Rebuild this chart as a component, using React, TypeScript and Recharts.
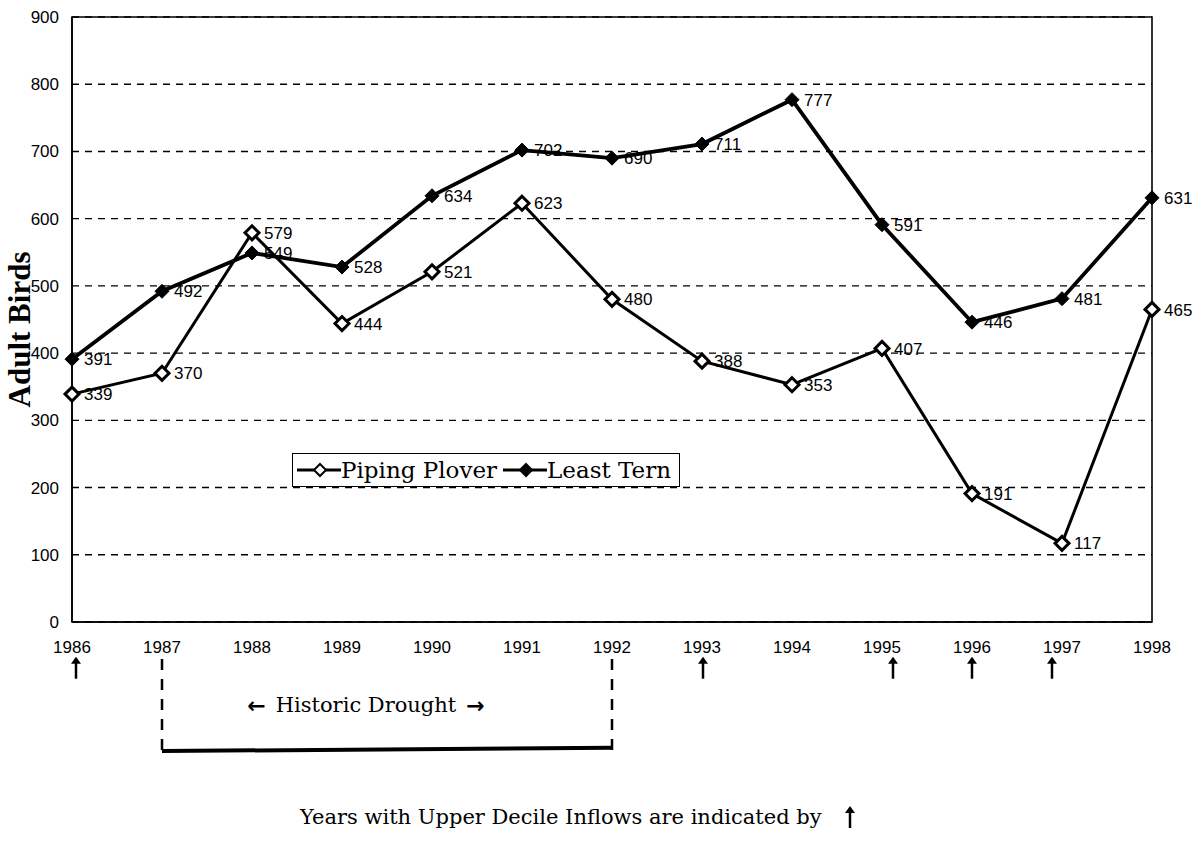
import React from 'react';
import {
  LineChart,
  Line,
  XAxis,
  YAxis,
  CartesianGrid,
  ReferenceLine,
  ReferenceDot,
  ReferenceArea,
  LabelList,
  Legend,
} from 'recharts';

const years = ['1986', '1987', '1988', '1989', '1990', '1991', '1992', '1993', '1994', '1995', '1996', '1997', '1998'];
const pipingPlover = [339, 370, 579, 444, 521, 623, 480, 388, 353, 407, 191, 117, 465];
const leastTern = [391, 492, 549, 528, 634, 702, 690, 711, 777, 591, 446, 481, 631];
const yTicks = [0, 100, 200, 300, 400, 500, 600, 700, 800, 900];
const inflowYears = ['1986', '1993', '1995', '1996', '1997'];
const droughtStart = '1987';
const droughtEnd = '1992';
const droughtMid = '1989';

const data = years.map((y, i) => ({ year: y, plover: pipingPlover[i], tern: leastTern[i] }));

const arrowShift: Record<string, number> = { '1986': 4, '1993': 1, '1995': 11, '1996': 0, '1997': -10 };

const SANS = '"Liberation Sans", Arial, sans-serif';
const SERIF = '"DejaVu Serif", "Liberation Serif", serif';

const UpArrow = ({ cx, cy }: { cx: number; cy: number }) => (
  <g>
    <line x1={cx} y1={cy - 9} x2={cx} y2={cy + 11} stroke="#000" strokeWidth={2.5} />
    <path d={`M${cx - 5},${cy - 4} L${cx},${cy - 11} L${cx + 5},${cy - 4} Z`} fill="#000" />
  </g>
);

const HollowDiamond = (props: any) => {
  const { cx, cy } = props;
  if (cx == null || cy == null) return null;
  const r = 7;
  return (
    <polygon
      points={`${cx},${cy - r} ${cx + r},${cy} ${cx},${cy + r} ${cx - r},${cy}`}
      fill="#fff"
      stroke="#000"
      strokeWidth={3}
    />
  );
};

const FilledDiamond = (props: any) => {
  const { cx, cy } = props;
  if (cx == null || cy == null) return null;
  const r = 7;
  return (
    <polygon
      points={`${cx},${cy - r} ${cx + r},${cy} ${cx},${cy + r} ${cx - r},${cy}`}
      fill="#000"
      stroke="#000"
      strokeWidth={1}
    />
  );
};

const renderValue = (props: any) => {
  const { x, y, value } = props;
  return (
    <text x={x + 12} y={y} dy="0.36em" fontSize={17} fontFamily={SANS} fill="#000">
      {value}
    </text>
  );
};

const LegendMarker = ({ hollow }: { hollow: boolean }) => (
  <svg width={46} height={18} style={{ verticalAlign: 'middle' }}>
    <line x1={0} y1={9} x2={46} y2={9} stroke="#000" strokeWidth={3} />
    <polygon points="23,3 29,9 23,15 17,9" fill={hollow ? '#fff' : '#000'} stroke="#000" strokeWidth={2} />
  </svg>
);

const renderLegend = () => (
  <div
    style={{
      border: '1.5px solid #000',
      padding: '3px 8px 3px 4px',
      display: 'flex',
      alignItems: 'center',
      fontFamily: SERIF,
      fontSize: 23,
      color: '#000',
      background: '#fff',
      whiteSpace: 'nowrap',
      width: 374,
      boxSizing: 'content-box',
    }}
  >
    <LegendMarker hollow={true} />
    <span style={{ marginRight: 6 }}>Piping Plover</span>
    <LegendMarker hollow={false} />
    <span>Least Tern</span>
  </div>
);

export default function App() {
  return (
    <div style={{ position: 'absolute', left: 0, top: 0, width: 1202, height: 846, background: '#fff' }}>
      <LineChart
        width={1202}
        height={846}
        data={data}
        margin={{ top: 17, right: 50, bottom: 194, left: 12 }}
      >
        <CartesianGrid vertical={false} stroke="#000" strokeDasharray="7 6" strokeWidth={1.4} />
        <ReferenceArea x1="1986" x2="1998" y1={0} y2={900} fill="none" stroke="#000" strokeWidth={1.6} />
        <XAxis
          dataKey="year"
          height={30}
          axisLine={{ stroke: '#000', strokeWidth: 1.6 }}
          tickLine={false}
          tickMargin={13}
          tick={{ fill: '#000', fontSize: 17, fontFamily: SANS }}
          interval={0}
        />
        <YAxis
          width={60}
          domain={[0, 900]}
          ticks={yTicks}
          axisLine={{ stroke: '#000', strokeWidth: 1.6 }}
          tickLine={false}
          tickMargin={7}
          tick={{ fill: '#000', fontSize: 17, fontFamily: SANS }}
          label={(p: any) => {
            const vb = p.viewBox || { x: 12, y: 17, width: 60, height: 605 };
            const cx = vb.x + 7;
            const cy = vb.y + vb.height / 2 + 10;
            return (
              <text
                x={cx}
                y={cy}
                transform={`rotate(-90 ${cx} ${cy})`}
                textAnchor="middle"
                dominantBaseline="central"
                fontFamily='"Liberation Serif", serif'
                fontWeight="bold"
                fontSize={31}
                fill="#000"
              >
                Adult Birds
              </text>
            );
          }}
        />
        <Legend
          layout="horizontal"
          verticalAlign="middle"
          align="center"
          content={renderLegend}
          wrapperStyle={{ left: 292, top: 453, width: 'auto' }}
        />
        <Line
          type="linear"
          dataKey="plover"
          name="Piping Plover"
          stroke="#000"
          strokeWidth={3}
          dot={<HollowDiamond />}
          activeDot={false}
          isAnimationActive={false}
        >
          <LabelList dataKey="plover" content={renderValue} />
        </Line>
        <Line
          type="linear"
          dataKey="tern"
          name="Least Tern"
          stroke="#000"
          strokeWidth={3.8}
          dot={<FilledDiamond />}
          activeDot={false}
          isAnimationActive={false}
        >
          <LabelList dataKey="tern" content={renderValue} />
        </Line>

        {inflowYears.map((yr) => (
          <ReferenceDot
            key={yr}
            x={yr}
            y={-68}
            ifOverflow="visible"
            shape={(p: any) => <UpArrow cx={p.cx + (arrowShift[yr] || 0)} cy={p.cy} />}
          />
        ))}

        <ReferenceLine
          segment={[{ x: droughtStart, y: -55 }, { x: droughtStart, y: -202 }]}
          ifOverflow="visible"
          stroke="#000"
          strokeWidth={2.5}
          strokeDasharray="11 9"
        />
        <ReferenceLine
          segment={[{ x: droughtEnd, y: -55 }, { x: droughtEnd, y: -202 }]}
          ifOverflow="visible"
          stroke="#000"
          strokeWidth={2.5}
          strokeDasharray="11 9"
        />
        <ReferenceLine
          segment={[{ x: droughtStart, y: -192 }, { x: droughtEnd, y: -187 }]}
          ifOverflow="visible"
          stroke="#000"
          strokeWidth={4}
        />
        <ReferenceDot
          x={droughtMid}
          y={-124}
          ifOverflow="visible"
          shape={(p: any) => (
            <text
              x={p.cx + 24}
              y={p.cy}
              textAnchor="middle"
              dominantBaseline="central"
              fontFamily={SERIF}
              fontSize={21}
              fill="#000"
            >
              <tspan fontWeight="bold" fontFamily='"DejaVu Sans", sans-serif' fontSize={22}>←</tspan>
              <tspan dx={10}>Historic Drought</tspan>
              <tspan dx={10} fontWeight="bold" fontFamily='"DejaVu Sans", sans-serif' fontSize={22}>→</tspan>
            </text>
          )}
        />
      </LineChart>
      <div
        style={{
          position: 'absolute',
          left: 300,
          top: 804,
          fontFamily: SERIF,
          fontSize: 21,
          color: '#000',
          whiteSpace: 'nowrap',
          display: 'flex',
          alignItems: 'center',
        }}
      >
        <span>Years with Upper Decile Inflows are indicated by</span>
        <svg width={40} height={26} style={{ marginLeft: 8 }}>
          <UpArrow cx={20} cy={13} />
        </svg>
      </div>
    </div>
  );
}
